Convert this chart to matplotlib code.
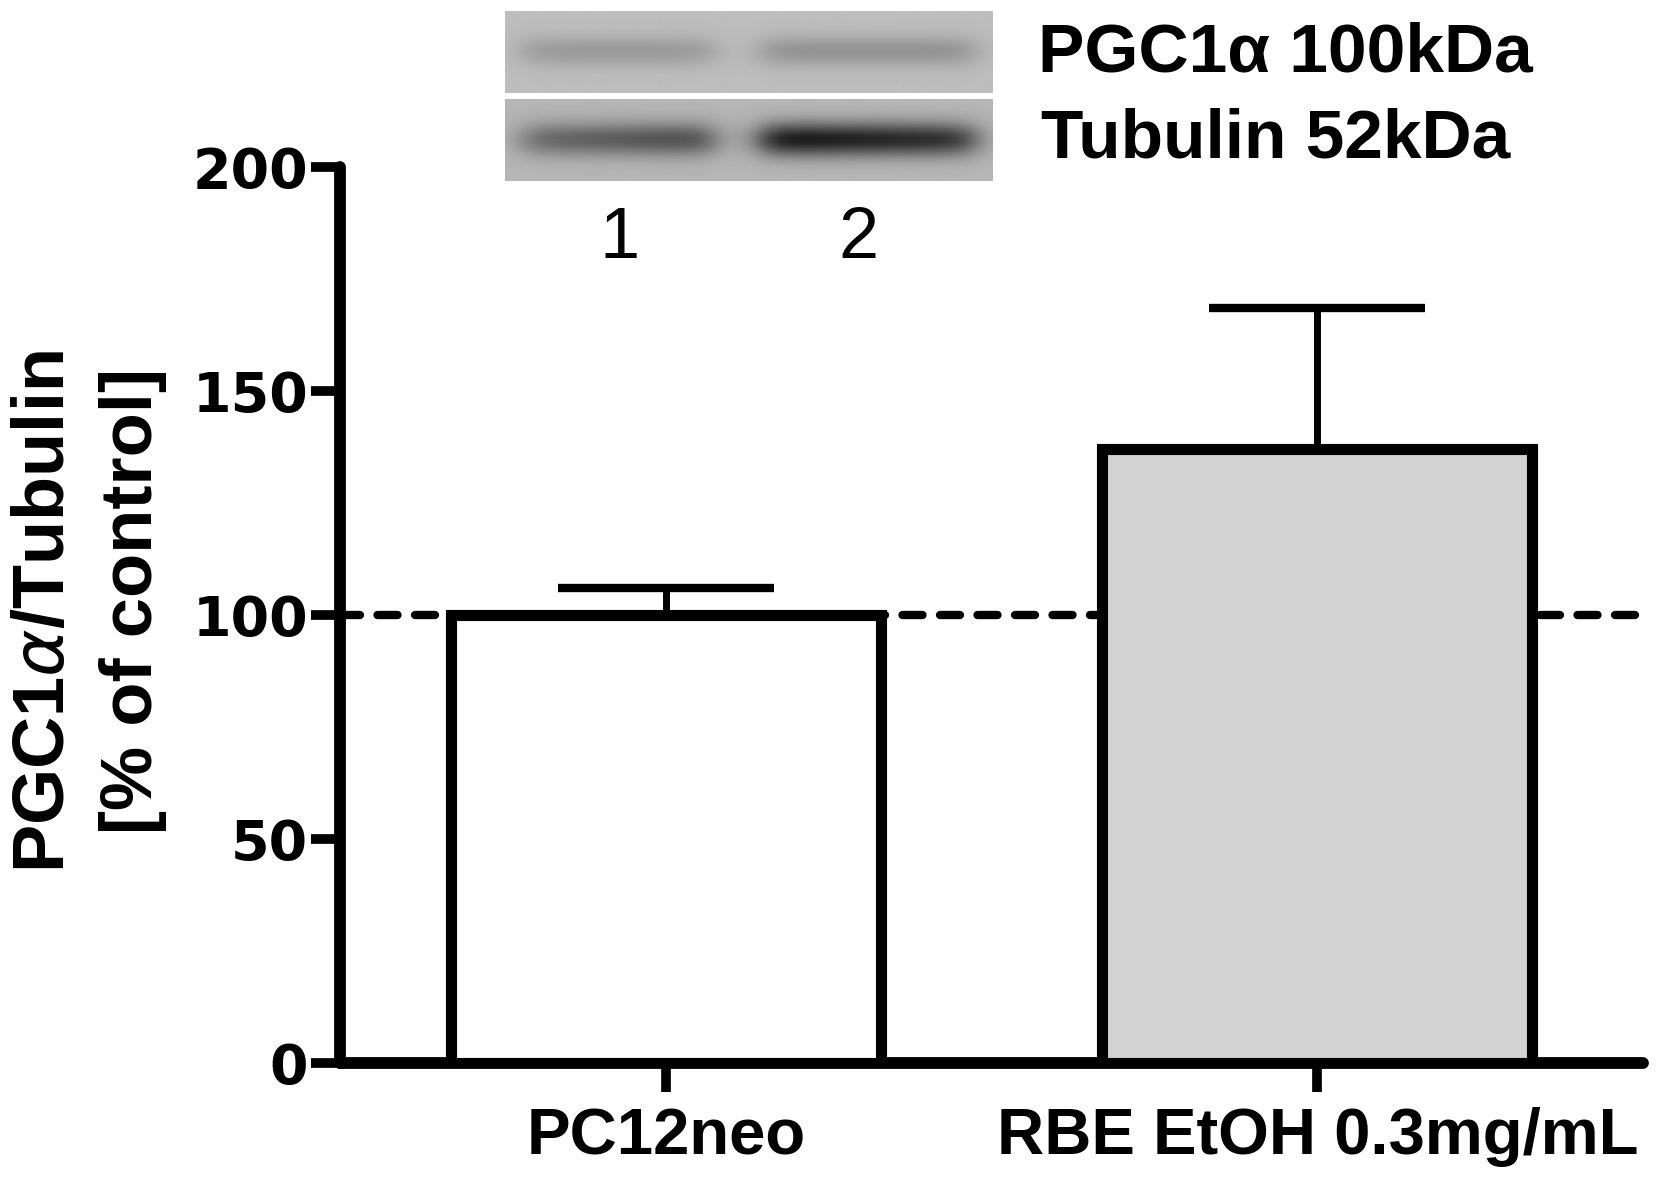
import matplotlib
matplotlib.use('Agg')
import matplotlib.pyplot as plt
import numpy as np

groups = ['PC12neo', 'RBE EtOH 0.3mg/mL']
means = [100, 137]
sems = [6, 31.5]
bar_colors = ['white', '#d3d3d3']
yticks = [0, 50, 100, 150, 200]
control_level = 100

# western blot look: darkness of each band (0-255) per lane
blot_rows = ['PGC1\u03b1 100kDa', 'Tubulin 52kDa']
blot_lanes = ['1', '2']
pgc_band = [35, 42]
tub_band = [105, 160]

fig = plt.figure(figsize=(16.69, 11.86), dpi=100)
W, H = 1669, 1186
ax = fig.add_axes([340 / W, 1 - 1063 / H, (1643 - 340) / W, (1063 - 167) / H])

x = np.arange(len(groups))
ax.errorbar(x, means, yerr=[[0, 0], sems], fmt='none', ecolor='black',
            elinewidth=5, capsize=78, capthick=6, zorder=2)
ax.bar(x, means, width=0.66, color=bar_colors, edgecolor='black',
       linewidth=8, zorder=3)
ax.axhline(control_level, color='black', lw=6, ls=(0, (2.4, 2.1)),
           dash_capstyle='round', zorder=1)

ax.set_xlim(-0.5, 1.5)
ax.set_ylim(0, 200)
ax.set_yticks(yticks)
ax.set_xticks(x)
ax.set_xticklabels(groups, fontsize=47, fontweight='bold', family='Liberation Sans')
for lab in ax.get_yticklabels():
    lab.set_fontsize(40)
    lab.set_fontweight('bold')
    lab.set_family('DejaVu Sans')
ax.tick_params(axis='both', length=21, width=7, direction='out')
ax.tick_params(axis='y', pad=2)
ax.tick_params(axis='x', pad=11)
for s in ['top', 'right']:
    ax.spines[s].set_visible(False)
for s in ['left', 'bottom']:
    ax.spines[s].set_linewidth(8.5)
    ax.spines[s].set_capstyle('round')

fig.text(45 / W, 1 - 612 / H, r'PGC1$\alpha$/Tubulin', rotation=90, fontsize=52,
         fontweight='bold', family='Liberation Sans', ha='center', va='center')
fig.text(133 / W, 1 - 601 / H, '[% of control]', rotation=90, fontsize=52,
         fontweight='bold', family='Liberation Sans', ha='center', va='center')

# blot picture
bx = fig.add_axes([505 / W, 1 - 181 / H, 487 / W, 170 / H])
bw, bh = 487, 170
img = np.full((bh, bw), 255.0)
cols = np.arange(bw)
lane_c = [112, 362]
lane_hw = [96, 107]
top = np.full((82, bw), 190.0)
bot = np.full((82, bw), 182.0)
for i in range(2):
    prof = 1 / (1 + np.exp((np.abs(cols - lane_c[i]) - lane_hw[i]) / 10))
    rt = np.exp(-((np.arange(82) - 40) / 16) ** 2)
    rb = np.exp(-((np.arange(82) - 40) / 17) ** 2)
    frac = np.clip((cols - lane_c[i] + lane_hw[i]) / (2 * lane_hw[i]), 0, 1)
    skew = 0.7 + 0.3 * frac if i == 0 else 1.0 - 0.2 * frac
    top -= pgc_band[i] * np.outer(rt, prof)
    bot -= tub_band[i] * np.outer(rb, prof * skew)
img[0:82] = top
img[88:170] = bot
bx.imshow(img, cmap='gray', vmin=0, vmax=255, aspect='auto', interpolation='bilinear')
bx.axis('off')

fig.text(1038 / W, 1 - 53 / H, blot_rows[0], fontsize=50, fontweight='bold',
         family='Liberation Sans', ha='left', va='center')
fig.text(1041 / W, 1 - 140 / H, blot_rows[1], fontsize=50, fontweight='bold',
         family='Liberation Sans', ha='left', va='center')
for lx, lab in zip([620, 858], blot_lanes):
    fig.text(lx / W, 1 - 240 / H, lab, fontsize=52, family='Liberation Sans',
             ha='center', va='center')

fig.savefig('out.png', dpi=100)
